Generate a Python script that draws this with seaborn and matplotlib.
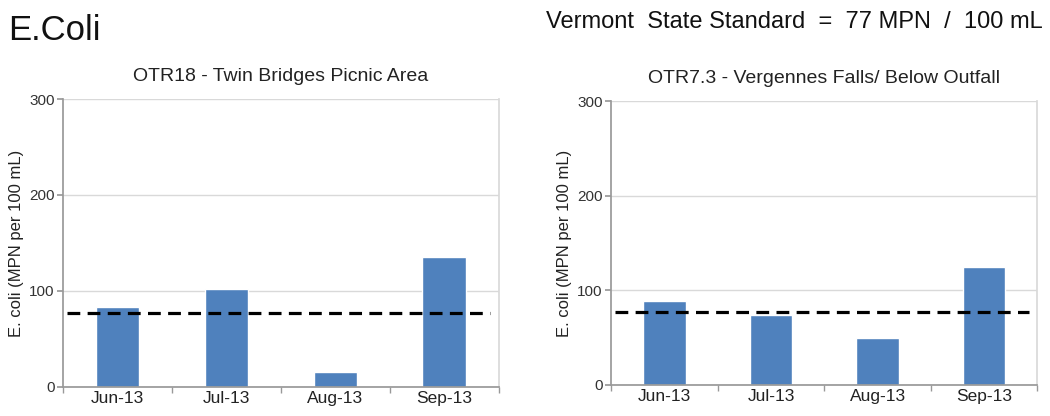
import numpy as np
import pandas as pd
import matplotlib.pyplot as plt
import seaborn as sns

months = ['Jun-13', 'Jul-13', 'Aug-13', 'Sep-13']
otr18 = [83, 102, 15, 135]
otr73 = [89, 74, 50, 125]
standard = 77

titles = ['OTR18 - Twin Bridges Picnic Area',
          'OTR7.3 - Vergennes Falls/ Below Outfall']

sns.set_theme(style='white')
plt.rcParams['font.family'] = ['Liberation Sans', 'DejaVu Sans']

fig = plt.figure(figsize=(10.5, 4.16), dpi=100)
ax1 = fig.add_axes([0.060, 0.070, 0.415, 0.692])
ax2 = fig.add_axes([0.582, 0.075, 0.406, 0.682])

for ax, vals, title in zip([ax1, ax2], [otr18, otr73], titles):
    df = pd.DataFrame({'month': months, 'ecoli': vals})
    sns.barplot(data=df, x='month', y='ecoli', color='#4F81BD',
                saturation=1, width=0.4, ax=ax)
    ax.axhline(standard, xmin=0.01, xmax=0.98, color='black',
               linestyle=(0, (4, 2.3)), linewidth=2.3, zorder=5)
    ax.set_ylim(0, 300)
    ax.set_xlim(-0.5, 3.5)
    ax.set_yticks([0, 100, 200, 300])
    ax.yaxis.grid(True, color='#d9d9d9', linewidth=1)
    ax.set_axisbelow(True)
    ax.set_xlabel('')
    ax.set_ylabel('E. coli (MPN per 100 mL)', fontsize=12, color='#222222')
    ax.set_title(title, fontsize=14, color='#222222', pad=13)
    for s in ['left', 'bottom']:
        ax.spines[s].set_color('#999999')
    ax.spines['right'].set_color('#d9d9d9')
    ax.spines['top'].set_visible(False)
    # Excel-style tick marks between categories
    ax.set_xticks([-0.5, 0.5, 1.5, 2.5, 3.5], minor=True)
    ax.tick_params(axis='x', which='major', length=0, labelsize=12.5,
                   labelcolor='#222222', pad=3)
    ax.tick_params(axis='x', which='minor', bottom=True, length=4,
                   color='#999999')
    ax.tick_params(axis='y', left=True, length=4, color='#999999',
                   labelsize=11, labelcolor='#333333', pad=2)

fig.text(0.008, 0.904, 'E.Coli', fontsize=25, color='#111111')
fig.text(0.993, 0.932, 'Vermont  State Standard  =  77 MPN  /  100 mL',
         fontsize=17, color='#111111', ha='right')

plt.savefig('out.png', dpi=100)
